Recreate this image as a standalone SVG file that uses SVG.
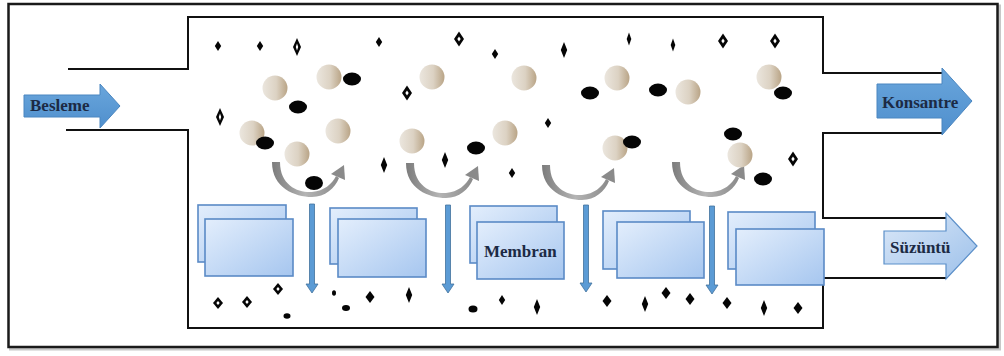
<svg xmlns="http://www.w3.org/2000/svg" xmlns:xlink="http://www.w3.org/1999/xlink" width="1004" height="356" viewBox="0 0 1004 356">
  <style>
    .wall { fill: none; stroke: #111; stroke-width: 2; }
    .lbl { font-family: 'Liberation Serif', 'DejaVu Serif', serif; font-weight: 700; font-size: 17px; fill: #1c2a44; }
    .mem { fill: url(#memGrad); stroke: #5a8ac6; stroke-width: 1.6; }
    .flow { fill: #5b9bd5; stroke: #41719c; stroke-width: 0.8; }
    .ball { fill: url(#ballGrad); }
    .blk { fill: #050505; }
  </style>
  <defs>
    <linearGradient id="memGrad" x1="0" y1="0" x2="1" y2="1">
      <stop offset="0" stop-color="#e3eefc"/>
      <stop offset="1" stop-color="#a6c6ef"/>
    </linearGradient>
    <linearGradient id="ballGrad" x1="0" y1="0" x2="1" y2="0">
      <stop offset="0" stop-color="#ebe6de"/>
      <stop offset="0.55" stop-color="#dcd2c3"/>
      <stop offset="1" stop-color="#b9a486"/>
    </linearGradient>
    <linearGradient id="blueArrow" x1="0" y1="0" x2="0" y2="1">
      <stop offset="0" stop-color="#6aa6dc"/>
      <stop offset="1" stop-color="#4f8fcd"/>
    </linearGradient>
    <linearGradient id="lightArrow" x1="0" y1="0" x2="1" y2="1">
      <stop offset="0" stop-color="#dbe8f8"/>
      <stop offset="1" stop-color="#9cc0ea"/>
    </linearGradient>
    <linearGradient id="greyArc" x1="0" y1="0" x2="1" y2="0">
      <stop offset="0" stop-color="#7c7c7c"/>
      <stop offset="0.5" stop-color="#b4b4b4"/>
      <stop offset="1" stop-color="#8a8a8a"/>
    </linearGradient>
    <!-- U-shaped recirculation arc, origin at the bottom centre; thicker on the left -->
    <g id="uArc">
      <path d="M -39,-28 L -31,-28 C -31,-4 -12,3 1,2 C 13,1 21,-6 25,-14 L 28,-12 C 24,-2 14,7 1,7 C -16,7 -39,-2 -39,-28 Z" fill="url(#greyArc)"/>
      <polygon points="33,-25 34,-10 20,-16" fill="#8a8a8a"/>
    </g>
    <!-- particle shapes -->
    <polygon id="dia" points="0,-5 3.2,0 0,5 -3.2,0" class="blk"/>
    <polygon id="diaT" points="0,-8 3.2,0 0,8 -3.2,0" class="blk"/>
    <polygon id="diaN" points="0,-6.5 2.3,0 0,6.5 -2.3,0" class="blk"/>
    <polygon id="diaB" points="0,-6 4.5,0 0,6 -4.5,0" class="blk"/>
    <g id="diaH">
      <polygon points="0,-7.5 5,0 0,7.5 -5,0" class="blk"/>
      <polygon points="0,-2.6 1.7,0 0,2.6 -1.7,0" fill="#fff"/>
    </g>
    <g id="diaHB">
      <polygon points="0,-6 5,0 0,6 -5,0" class="blk"/>
      <polygon points="0,-2 1.7,0 0,2 -1.7,0" fill="#fff"/>
    </g>
    <g id="diaHT">
      <polygon points="0,-9 4,0 0,9 -4,0" class="blk"/>
      <polygon points="0,-3.5 1.2,0 0,3.5 -1.2,0" fill="#fff"/>
    </g>
  </defs>

  <rect width="1004" height="356" fill="#fff"/>

  <!-- outer frame with soft shadow -->
  <rect x="10.5" y="6" width="989" height="343" fill="none" stroke="#c8c8c8" stroke-width="3"/>
  <rect x="8.5" y="4" width="989" height="343" fill="#fff" stroke="#1a1a1a" stroke-width="2.5"/>

  <!-- module housing -->
  <g id="housing">
    <path class="wall" d="M 68,69 H 188 V 17 H 823 V 73 H 942"/>
    <path class="wall" d="M 942,133 H 823 V 218 H 947"/>
    <path class="wall" d="M 947,278 H 823 V 328 H 188 V 130 H 66"/>
  </g>

  <!-- recirculation arcs and permeate flow -->
  <g id="connectors">
    <use xlink:href="#uArc" transform="translate(311,190)"/>
    <use xlink:href="#uArc" transform="translate(445,191)"/>
    <use xlink:href="#uArc" transform="translate(581,193)"/>
    <use xlink:href="#uArc" transform="translate(711,190)"/>
    <polygon class="flow" points="309.5,204 314.5,204 314.5,284 318,284 312,293 306,284 309.5,284"/>
    <polygon class="flow" points="445.5,205 450.5,205 450.5,284 454,284 448,293 442,284 445.5,284"/>
    <polygon class="flow" points="583.5,205 588.5,205 588.5,283 592,283 586,292 580,283 583.5,283"/>
    <polygon class="flow" points="709.5,206 714.5,206 714.5,285 718,285 712,294 706,285 709.5,285"/>
  </g>

  <!-- suspended particles: spheres -->
  <g id="spheres">
    <circle class="ball" cx="275" cy="88" r="12.5"/>
    <circle class="ball" cx="329" cy="77" r="12.5"/>
    <circle class="ball" cx="432" cy="77" r="12.5"/>
    <circle class="ball" cx="524" cy="78" r="12.5"/>
    <circle class="ball" cx="617" cy="78" r="12.5"/>
    <circle class="ball" cx="688" cy="92" r="12.5"/>
    <circle class="ball" cx="769" cy="77" r="12.5"/>
    <circle class="ball" cx="252" cy="133" r="12.5"/>
    <circle class="ball" cx="297" cy="154" r="12.5"/>
    <circle class="ball" cx="338" cy="131" r="12.5"/>
    <circle class="ball" cx="412" cy="141" r="12.5"/>
    <circle class="ball" cx="505" cy="133" r="12.5"/>
    <circle class="ball" cx="615" cy="148" r="12.5"/>
    <circle class="ball" cx="740" cy="155" r="12.5"/>
  </g>

  <!-- suspended particles: dark solids -->
  <g id="solids">
    <ellipse class="blk" cx="352" cy="79" rx="9" ry="6.5"/>
    <ellipse class="blk" cx="298" cy="107" rx="9" ry="6.5"/>
    <ellipse class="blk" cx="590" cy="93" rx="9" ry="6.5"/>
    <ellipse class="blk" cx="658" cy="90" rx="9" ry="6.5"/>
    <ellipse class="blk" cx="783" cy="93" rx="9" ry="6.5"/>
    <ellipse class="blk" cx="265" cy="143" rx="9" ry="6.5"/>
    <ellipse class="blk" cx="314" cy="183" rx="9" ry="7"/>
    <ellipse class="blk" cx="476" cy="148" rx="9" ry="6.5"/>
    <ellipse class="blk" cx="632" cy="142" rx="9" ry="6.5"/>
    <ellipse class="blk" cx="733" cy="134" rx="9" ry="6.5"/>
    <ellipse class="blk" cx="763" cy="179" rx="9" ry="6.5"/>
    <ellipse class="blk" cx="287" cy="316" rx="3.5" ry="2.8"/>
    <ellipse class="blk" cx="334" cy="293" rx="2" ry="2.8"/>
    <ellipse class="blk" cx="346" cy="308" rx="4" ry="3"/>
    <ellipse class="blk" cx="473" cy="309" rx="4.5" ry="3.5"/>
  </g>

  <!-- suspended particles: small species -->
  <g id="ions">
    <use xlink:href="#dia" x="218" y="46"/>
    <use xlink:href="#dia" x="260" y="46"/>
    <use xlink:href="#diaHT" x="297" y="47"/>
    <use xlink:href="#dia" x="379" y="42"/>
    <use xlink:href="#diaH" x="459" y="39"/>
    <use xlink:href="#dia" x="495" y="54"/>
    <use xlink:href="#diaT" x="564" y="50"/>
    <use xlink:href="#diaN" x="629" y="39"/>
    <use xlink:href="#diaN" x="673" y="45"/>
    <use xlink:href="#diaH" x="723" y="41"/>
    <use xlink:href="#diaH" x="775" y="41"/>
    <use xlink:href="#diaH" x="407" y="93"/>
    <use xlink:href="#diaHT" x="220" y="117"/>
    <use xlink:href="#dia" x="548" y="123"/>
    <use xlink:href="#diaT" x="384" y="165"/>
    <use xlink:href="#diaT" x="445" y="160"/>
    <use xlink:href="#dia" x="512" y="173"/>
    <use xlink:href="#diaH" x="793" y="159"/>

    <use xlink:href="#diaHB" x="218" y="303"/>
    <use xlink:href="#diaHB" x="247" y="302"/>
    <use xlink:href="#diaHB" x="278" y="289"/>
    <use xlink:href="#diaB" x="370" y="297"/>
    <use xlink:href="#diaT" x="409" y="295"/>
    <use xlink:href="#dia" x="502" y="300"/>
    <use xlink:href="#diaT" x="537" y="307"/>
    <use xlink:href="#diaB" x="607" y="301"/>
    <use xlink:href="#diaT" x="645" y="304"/>
    <use xlink:href="#diaB" x="666" y="293"/>
    <use xlink:href="#diaB" x="690" y="299"/>
    <use xlink:href="#diaB" x="727" y="303"/>
    <use xlink:href="#diaT" x="764" y="308"/>
    <use xlink:href="#diaB" x="798" y="308"/>
  </g>

  <!-- membrane sheets -->
  <g id="membrane1">
    <rect class="mem" x="198" y="205" width="88" height="57"/>
    <rect class="mem" x="205" y="219" width="88" height="57"/>
  </g>
  <g id="membrane2">
    <rect class="mem" x="330" y="208" width="87" height="56"/>
    <rect class="mem" x="338" y="219" width="88" height="58"/>
  </g>
  <g id="membrane3">
    <rect class="mem" x="470" y="206" width="87" height="57"/>
    <rect class="mem" x="477" y="222" width="87" height="57"/>
    <text class="lbl" x="484" y="257" font-family="Liberation Serif, serif" font-weight="bold">Membran</text>
  </g>
  <g id="membrane4">
    <rect class="mem" x="603" y="211" width="87" height="58"/>
    <rect class="mem" x="617" y="222" width="87" height="56"/>
  </g>
  <g id="membrane5">
    <rect class="mem" x="728" y="212" width="87" height="57"/>
    <rect class="mem" x="736" y="229" width="88" height="56"/>
  </g>

  <!-- feed inlet -->
  <g id="feed">
    <polygon points="24,95 100,95 100,84 120,106 100,128 100,117 24,117" fill="url(#blueArrow)" stroke="#4a86c0" stroke-width="1"/>
    <text class="lbl" x="30" y="111" font-family="Liberation Serif, serif" font-weight="bold">Besleme</text>
  </g>

  <!-- concentrate outlet -->
  <g id="concentrate">
    <polygon points="877,84 942,84 942,68 972,101 942,135 942,118 877,118" fill="url(#blueArrow)" stroke="#4a86c0" stroke-width="1"/>
    <text class="lbl" x="882" y="108" font-family="Liberation Serif, serif" font-weight="bold">Konsantre</text>
  </g>

  <!-- permeate outlet -->
  <g id="permeate">
    <polygon points="884,231 946,231 946,213 977,246 946,279 946,264 884,264" fill="url(#lightArrow)" stroke="#5b8fc9" stroke-width="1.2"/>
    <text class="lbl" x="890" y="253" font-family="Liberation Serif, serif" font-weight="bold">Süzüntü</text>
  </g>
</svg>
